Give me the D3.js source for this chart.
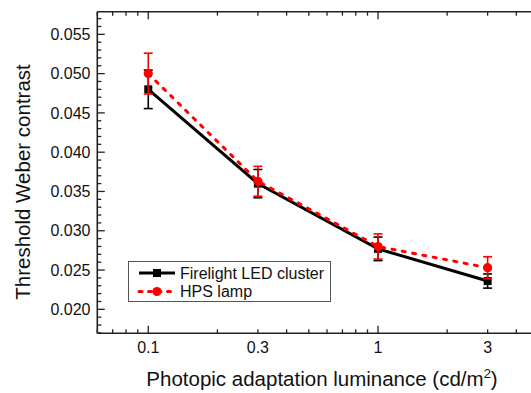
<!DOCTYPE html>
<html>
<head>
<meta charset="utf-8">
<script src="https://cdn.jsdelivr.net/npm/d3@7"></script>
<style>
  html, body { margin: 0; padding: 0; background: #fff; }
  svg { display: block; font-family: "Liberation Sans", Arial, sans-serif; }
</style>
</head>
<body>
<svg id="chart" width="531" height="393"></svg>
<script>
// Photopic adaptation luminance (cd/m²)
const luminance = [0.1, 0.3, 1, 3];

// Threshold Weber contrast and error half-widths per light source
const ledValues = [0.0480, 0.0360, 0.0277, 0.0236];
const ledErrors = [0.00245, 0.0018, 0.0015, 0.0009];
const hpsValues = [0.0500, 0.0363, 0.0280, 0.0253];
const hpsErrors = [0.0026, 0.0019, 0.0016, 0.0014];

const seriesNames = ["Firelight LED cluster", "HPS lamp"];

const xTickLabels = [0.1, 0.3, 1, 3];
const yTickLabels = [0.020, 0.025, 0.030, 0.035, 0.040, 0.045, 0.050, 0.055];

const svg = d3.select("#chart");
const plotL = 97.3, plotR = 538.6, plotT = 11.7, plotB = 333.3;

const x = d3.scaleLog().domain([0.06, 5]).range([plotL, plotR]);
const y = d3.scaleLinear().domain([0.01695, 0.05788]).range([plotB, plotT]);

// frame
const frame = svg.append("g").attr("stroke", "#222").attr("stroke-width", 1.6).attr("fill", "none");
frame.append("line").attr("x1", plotL).attr("x2", plotR).attr("y1", plotT).attr("y2", plotT);
frame.append("line").attr("x1", plotL).attr("x2", plotR).attr("y1", plotB).attr("y2", plotB);
frame.append("line").attr("x1", plotL).attr("x2", plotL).attr("y1", plotT).attr("y2", plotB);
frame.append("line").attr("x1", plotR).attr("x2", plotR).attr("y1", plotT).attr("y2", plotB);

// log ticks: decades are major, 2..9 multiples minor
const xTicksAll = [];
for (let d = 0.01; d <= 1; d *= 10) {
  for (let m = 1; m <= 9; m++) {
    const v = +(m * d).toPrecision(3);
    if (v >= 0.06 && v <= 5) xTicksAll.push({ v, major: m === 1 });
  }
}
const tickG = svg.append("g").attr("stroke", "#222").attr("stroke-width", 1.3);
xTicksAll.forEach(t => {
  const len = t.major ? 7.5 : 4;
  tickG.append("line").attr("x1", x(t.v)).attr("x2", x(t.v)).attr("y1", plotB).attr("y2", plotB - len);
  tickG.append("line").attr("x1", x(t.v)).attr("x2", x(t.v)).attr("y1", plotT).attr("y2", plotT + len);
});
const yTicksAll = d3.range(17, 58).map(k => ({ v: k / 1000, major: k % 5 === 0 }));
yTicksAll.forEach(t => {
  const len = t.major ? 7.5 : 4;
  tickG.append("line").attr("x1", plotL).attr("x2", plotL + len).attr("y1", y(t.v)).attr("y2", y(t.v));
  tickG.append("line").attr("x1", plotR).attr("x2", plotR - len).attr("y1", y(t.v)).attr("y2", y(t.v));
});

// tick labels
svg.append("g").selectAll("text").data(xTickLabels).join("text")
  .attr("x", d => x(d)).attr("y", 353)
  .attr("text-anchor", "middle").attr("font-size", 16).attr("fill", "#111")
  .text(d => String(d));
svg.append("g").selectAll("text").data(yTickLabels).join("text")
  .attr("x", 90.5).attr("y", d => y(d)).attr("dy", "0.35em")
  .attr("text-anchor", "end").attr("font-size", 16).attr("fill", "#111")
  .text(d => d.toFixed(3));

// axis titles
const xt = svg.append("text").attr("x", 322).attr("y", 386)
  .attr("text-anchor", "middle").attr("font-size", 20.5).attr("fill", "#111");
xt.append("tspan").text("Photopic adaptation luminance (cd/m");
xt.append("tspan").attr("font-size", 13).attr("dy", -8).text("2");
xt.append("tspan").attr("dy", 8).text(")");

svg.append("text").attr("transform", "translate(30,182) rotate(-90)")
  .attr("text-anchor", "middle").attr("font-size", 20.5).attr("fill", "#111")
  .text("Threshold Weber contrast");

const line = d3.line().x(d => x(d[0])).y(d => y(d[1]));

function drawSeries(values, errors, color, dashed, marker) {
  const pts = luminance.map((l, i) => [l, values[i], errors[i]]);
  const g = svg.append("g");
  g.append("path").datum(pts).attr("d", line)
    .attr("fill", "none").attr("stroke", color).attr("stroke-width", 3)
    .attr("stroke-dasharray", dashed ? "3,7.5" : null)
    .attr("stroke-linecap", dashed ? "round" : "butt");
  const eb = g.append("g").attr("stroke", color).attr("stroke-width", 1.6);
  pts.forEach(p => {
    const cx = x(p[0]), y0 = y(p[1] - p[2]), y1 = y(p[1] + p[2]);
    eb.append("line").attr("x1", cx).attr("x2", cx).attr("y1", y0).attr("y2", y1);
    eb.append("line").attr("x1", cx - 4.5).attr("x2", cx + 4.5).attr("y1", y0).attr("y2", y0);
    eb.append("line").attr("x1", cx - 4.5).attr("x2", cx + 4.5).attr("y1", y1).attr("y2", y1);
  });
  pts.forEach(p => marker(g, x(p[0]), y(p[1])));
}

const square = (g, cx, cy) => g.append("rect").attr("x", cx - 4).attr("y", cy - 4)
  .attr("width", 8).attr("height", 8).attr("fill", "#000");
const circle = (g, cx, cy) => g.append("circle").attr("cx", cx).attr("cy", cy)
  .attr("r", 4.6).attr("fill", "#ff0000");

drawSeries(ledValues, ledErrors, "#000", false, square);
drawSeries(hpsValues, hpsErrors, "#ff0000", true, circle);

// legend
const lg = svg.append("g");
lg.append("rect").attr("x", 128.5).attr("y", 261.5).attr("width", 202).attr("height", 40)
  .attr("fill", "#fff").attr("stroke", "#555").attr("stroke-width", 1);
const rows = [
  { name: seriesNames[0], color: "#000", dashed: false, marker: square, yy: 273 },
  { name: seriesNames[1], color: "#ff0000", dashed: true, marker: circle, yy: 291.5 }
];
rows.forEach(r => {
  lg.append("line").attr("x1", 139).attr("x2", 175).attr("y1", r.yy).attr("y2", r.yy)
    .attr("stroke", r.color).attr("stroke-width", 3)
    .attr("stroke-dasharray", r.dashed ? "3,6.5" : null)
    .attr("stroke-linecap", r.dashed ? "round" : "butt");
  r.marker(lg, 157, r.yy);
  lg.append("text").attr("x", 180).attr("y", r.yy).attr("dy", "0.36em")
    .attr("font-size", 16).attr("fill", "#111").text(r.name);
});
</script>
</body>
</html>
